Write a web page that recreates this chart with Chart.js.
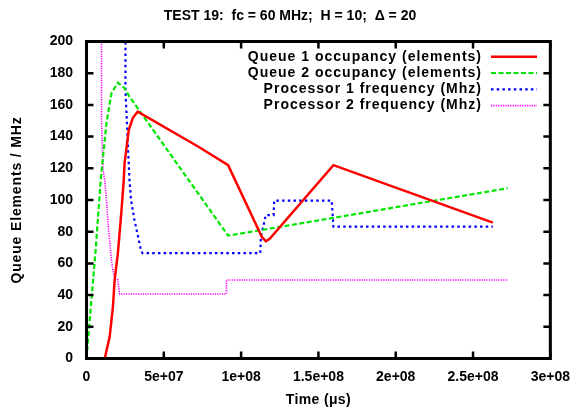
<!DOCTYPE html>
<html>
<head>
<meta charset="utf-8">
<script src="https://cdn.jsdelivr.net/npm/chart.js@4/dist/chart.umd.min.js"></script>
<style>
  html, body { margin: 0; padding: 0; background: #fff; }
  canvas { display: block; }
</style>
</head>
<body>
<canvas id="chart" width="580" height="412"></canvas>
<script>
// Time axis (microseconds) and values for each trace
const q1Time  = [0, 11.8e6, 15.0e6, 17.1e6, 18.2e6, 20.3e6, 22.5e6, 24.1e6, 24.6e6, 27.3e6, 29.9e6, 33.1e6, 72.4e6, 91.6e6, 113.5e6, 116.0e6, 118.5e6, 159.7e6, 262.8e6];
const q1Value = [0, 0, 13.8, 32.7, 49.5, 66.5, 91.8, 112.6, 123, 144, 151.7, 155.7, 133.6, 122, 76.5, 74, 75.5, 122, 85.7];

const q2Time  = [0, 3.0e6, 6.0e6, 9.3e6, 12.9e6, 16.1e6, 20.3e6, 24.6e6, 27.8e6, 91.6e6, 272.4e6];
const q2Value = [0, 34.8, 69.6, 114, 148.4, 167.3, 174, 170.5, 165.2, 77.5, 107.4];

const p1Time  = [25.2e6, 25.2e6, 27.8e6, 28.8e6, 31.0e6, 33.1e6, 35.2e6, 36.2e6, 112.4e6, 112.8e6, 116.0e6, 121.0e6, 121.4e6, 158.6e6, 159.7e6, 262.8e6];
const p1Value = [250, 169, 112.6, 100, 87.4, 78, 68.5, 66.5, 66.5, 76.8, 90.5, 90.5, 99.6, 99.6, 83.2, 83.2];

const p2Time  = [9.7e6, 9.7e6, 10.7e6, 11.8e6, 12.9e6, 13.9e6, 16.1e6, 17.1e6, 18.2e6, 20.3e6, 21.4e6, 90.5e6, 90.5e6, 272.4e6];
const p2Value = [250, 150, 119, 112.6, 100, 85.5, 62, 55.8, 50.8, 49.5, 40.7, 40.7, 49.5, 49.5];

const seriesLabels = [
  'Queue 1 occupancy (elements)',
  'Queue 2 occupancy (elements)',
  'Processor 1 frequency (Mhz)',
  'Processor 2 frequency (Mhz)'
];

const xTickLabels = ['0', '5e+07', '1e+08', '1.5e+08', '2e+08', '2.5e+08', '3e+08'];
const yTickLabels = ['0', '20', '40', '60', '80', '100', '120', '140', '160', '180', '200'];

const FONT = '"Liberation Sans", Arial, Helvetica, sans-serif';

function pairs(xs, ys) {
  return xs.map((x, i) => ({ x: x, y: ys[i] }));
}

// Slightly wider letter spacing for the axis titles
const titleSpacingPlugin = {
  id: 'titleSpacing',
  beforeDraw(chart) {
    const spacing = { x: '0.35px', y: '0.85px' };
    Object.keys(spacing).forEach(id => {
      const scale = chart.scales[id];
      if (!scale || scale._spacedTitle) return;
      const orig = scale.drawTitle;
      scale.drawTitle = function () {
        const ctx = this.ctx;
        const prev = ctx.letterSpacing;
        ctx.letterSpacing = spacing[id];
        orig.apply(this, arguments);
        ctx.letterSpacing = prev || '0px';
      };
      scale._spacedTitle = true;
    });
  }
};

// Frame with inward ticks on all four sides
const framePlugin = {
  id: 'frame',
  afterDatasetsDraw(chart) {
    const { ctx, chartArea: a, scales } = chart;
    const tl = 7;
    ctx.save();
    ctx.strokeStyle = '#000';
    ctx.setLineDash([]);
    ctx.lineWidth = 2.5;
    ctx.beginPath();
    scales.x.ticks.forEach(t => {
      const px = scales.x.getPixelForValue(t.value);
      ctx.moveTo(px, a.bottom); ctx.lineTo(px, a.bottom - tl);
      ctx.moveTo(px, a.top);    ctx.lineTo(px, a.top + tl);
    });
    scales.y.ticks.forEach(t => {
      const py = scales.y.getPixelForValue(t.value);
      ctx.moveTo(a.left, py);  ctx.lineTo(a.left + tl, py);
      ctx.moveTo(a.right, py); ctx.lineTo(a.right - tl, py);
    });
    ctx.stroke();
    ctx.lineWidth = 3;
    ctx.strokeRect(a.left, a.top, a.right - a.left, a.bottom - a.top);
    ctx.restore();
  }
};

// Key in the upper right: right-aligned labels followed by line samples
const keyPlugin = {
  id: 'key',
  afterDraw(chart) {
    const { ctx } = chart;
    const textRight = 482, lineStart = 491, lineEnd = 537;
    const firstRow = 56.7, rowStep = 16.3;
    ctx.save();
    ctx.font = 'bold 14px ' + FONT;
    ctx.letterSpacing = '1px';
    ctx.textAlign = 'right';
    ctx.textBaseline = 'middle';
    chart.data.datasets.forEach((ds, i) => {
      const y = firstRow + i * rowStep;
      ctx.fillStyle = '#000';
      ctx.fillText(ds.label, textRight, y);
      ctx.strokeStyle = ds.borderColor;
      ctx.lineWidth = ds.borderWidth;
      ctx.setLineDash(ds.borderDash || []);
      ctx.beginPath();
      ctx.moveTo(lineStart, y);
      ctx.lineTo(lineEnd, y);
      ctx.stroke();
    });
    ctx.letterSpacing = '0px';
    ctx.restore();
  }
};

const lineCommon = { pointRadius: 0, tension: 0, fill: false, borderCapStyle: 'butt' };

new Chart(document.getElementById('chart'), {
  type: 'line',
  data: {
    datasets: [
      Object.assign({ label: seriesLabels[0], data: pairs(q1Time, q1Value), borderColor: '#ff0000', borderWidth: 2.5, borderDash: [] }, lineCommon),
      Object.assign({ label: seriesLabels[1], data: pairs(q2Time, q2Value), borderColor: '#00e600', borderWidth: 2.2, borderDash: [5, 2.5] }, lineCommon),
      Object.assign({ label: seriesLabels[2], data: pairs(p1Time, p1Value), borderColor: '#0000ff', borderWidth: 2.2, borderDash: [2.5, 3.2] }, lineCommon),
      Object.assign({ label: seriesLabels[3], data: pairs(p2Time, p2Value), borderColor: '#ff00ff', borderWidth: 1.6, borderDash: [1.2, 1.2] }, lineCommon)
    ]
  },
  options: {
    responsive: false,
    animation: false,
    layout: { padding: 0 },
    plugins: {
      legend: { display: false },
      tooltip: { enabled: false },
      title: {
        display: true,
        text: 'TEST 19:  fc = 60 MHz;  H = 10;  \u0394 = 20',
        color: '#000',
        font: { family: FONT, size: 14, weight: 'bold' },
        padding: { top: 8, bottom: 0 }
      }
    },
    scales: {
      x: {
        type: 'linear',
        position: 'bottom',
        min: 0,
        max: 3e8,
        grid: { display: false, drawTicks: false },
        border: { display: false },
        ticks: {
          stepSize: 5e7,
          autoSkip: false,
          maxRotation: 0,
          padding: 10,
          color: '#000',
          font: { family: FONT, size: 14, weight: 'bold' },
          callback: (v, i) => xTickLabels[i]
        },
        title: {
          display: true,
          text: 'Time (\u03bcs)',
          color: '#000',
          font: { family: FONT, size: 14, weight: 'bold' },
          padding: { top: 0, bottom: 3.6 }
        },
        afterFit: s => { s.height = 53.5; }
      },
      x2: {
        type: 'linear',
        position: 'top',
        display: true,
        grid: { display: false, drawTicks: false },
        border: { display: false },
        ticks: { display: false },
        afterFit: s => { s.height = 16.7; }
      },
      y: {
        type: 'linear',
        position: 'left',
        min: 0,
        max: 200,
        grid: { display: false, drawTicks: false },
        border: { display: false },
        ticks: {
          stepSize: 20,
          padding: 13.5,
          color: '#000',
          font: { family: FONT, size: 14, weight: 'bold' },
          callback: (v, i) => yTickLabels[i]
        },
        title: {
          display: true,
          text: 'Queue Elements / MHz',
          color: '#000',
          font: { family: FONT, size: 14, weight: 'bold' },
          padding: { top: 8.6, bottom: 0 }
        },
        afterFit: s => { s.width = 86.5; }
      },
      y2: {
        type: 'linear',
        position: 'right',
        display: true,
        grid: { display: false, drawTicks: false },
        border: { display: false },
        ticks: { display: false },
        afterFit: s => { s.width = 23.5; }
      }
    }
  },
  plugins: [titleSpacingPlugin, framePlugin, keyPlugin]
});
</script>
</body>
</html>
